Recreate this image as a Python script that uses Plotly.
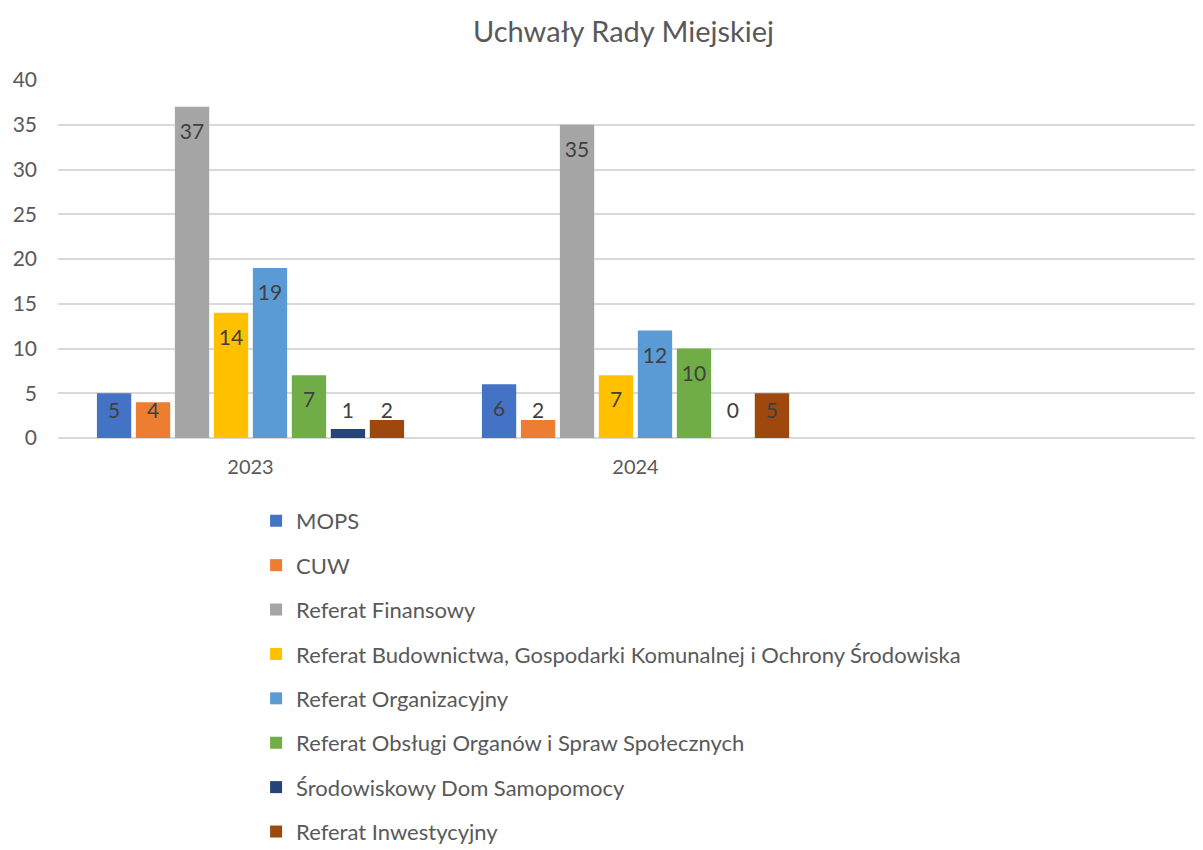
import plotly.graph_objects as go

title = "Uchwały Rady Miejskiej"
years = ["2023", "2024"]
series_names = [
    "MOPS",
    "CUW",
    "Referat Finansowy",
    "Referat Budownictwa, Gospodarki Komunalnej i Ochrony Środowiska",
    "Referat Organizacyjny",
    "Referat Obsługi Organów i Spraw Społecznych",
    "Środowiskowy Dom Samopomocy",
    "Referat Inwestycyjny",
]
mops = [5, 6]
cuw = [4, 2]
finansowy = [37, 35]
budownictwa = [14, 7]
organizacyjny = [19, 12]
obslugi = [7, 10]
sds = [1, 0]
inwestycyjny = [2, 5]
values = [mops, cuw, finansowy, budownictwa, organizacyjny, obslugi, sds, inwestycyjny]
colors = ["#4472C4", "#ED7D31", "#A5A5A5", "#FFC000", "#5B9BD5", "#70AD47", "#264478", "#9E480E"]

FONT = "Lato"
x_idx = list(range(len(years)))
n = len(series_names)
bargap = 0.19
slot = (1 - bargap) / n

fig = go.Figure()
for k, (name, vals, col) in enumerate(zip(series_names, values, colors)):
    fig.add_trace(go.Bar(
        x=x_idx, y=vals, name=name, marker=dict(color=col, line=dict(width=0)),
        legendgroup=name, hoverinfo="y+name",
    ))
for k, (name, vals) in enumerate(zip(series_names, values)):
    xs = [i + (k - (n - 1) / 2) * slot for i in x_idx]
    ys = [max(v - 3.0, 2.8) for v in vals]
    fig.add_trace(go.Scatter(
        x=xs, y=ys, mode="text", text=[str(v) for v in vals],
        textfont=dict(family=FONT, size=21, color="#404040"),
        showlegend=False, hoverinfo="skip", legendgroup=name,
    ))

fig.update_layout(
    width=1195, height=842,
    margin=dict(l=50, r=0, t=72, b=412, autoexpand=False),
    paper_bgcolor="white", plot_bgcolor="white",
    barmode="group", bargap=bargap, bargroupgap=0.12,
    title=dict(text=title, x=0.515, xanchor="center", y=0.9715, yanchor="middle",
               font=dict(family=FONT, size=29, color="#595959")),
    font=dict(family=FONT, color="#595959"),
    xaxis=dict(range=[-0.5, 2.474], tickvals=x_idx, ticktext=years, showgrid=False,
               zeroline=False, showline=False, ticks="", ticklabelstandoff=15,
               automargin=False,
               tickfont=dict(family=FONT, size=20, color="#595959")),
    yaxis=dict(range=[0, 40], dtick=5, showgrid=True, gridcolor="#D9D9D9", gridwidth=1.5,
               zeroline=True, zerolinecolor="#D9D9D9", zerolinewidth=1.5,
               ticks="", ticklabelstandoff=20, automargin=False,
               tickfont=dict(family=FONT, size=21, color="#595959")),
    legend=dict(orientation="v", x=0.173, xanchor="left", y=-0.173, yanchor="top",
                font=dict(family=FONT, size=22, color="#595959"),
                tracegroupgap=12.8, itemwidth=30, traceorder="grouped"),
    showlegend=True,
)

fig.write_html("out.html")
